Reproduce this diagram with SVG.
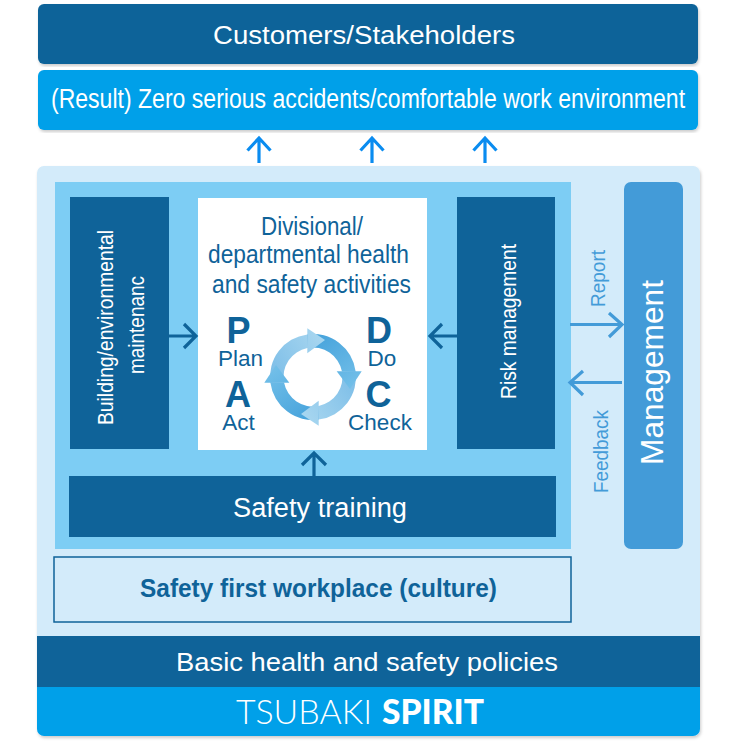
<svg xmlns="http://www.w3.org/2000/svg" width="740" height="745" viewBox="0 0 740 745">
<style>
text{font-family:"Liberation Sans",Arial,sans-serif;text-anchor:middle}
.w{fill:#fff}.d{fill:#0f6399}.m{fill:#439bd8}
.c{fill:none;stroke-width:3.200;stroke-linecap:butt}
</style>
<defs>
<filter id="sh" x="-5%" y="-5%" width="110%" height="110%"><feDropShadow dx="1" dy="2" stdDeviation="1.500" flood-color="#000" flood-opacity="0.2"/></filter>
<linearGradient id="g1" gradientUnits="userSpaceOnUse" x1="-40" y1="-5" x2="12" y2="-40"><stop offset="0" stop-color="#7fbfe8"/><stop offset="1" stop-color="#a9d7f0"/></linearGradient>
<linearGradient id="g2" gradientUnits="userSpaceOnUse" x1="-40" y1="-5" x2="12" y2="-40"><stop offset="0" stop-color="#48a4dc"/><stop offset="1" stop-color="#74c0e9"/></linearGradient>
<path id="seg" d="M-42.6 6A43 43 0 0 1-5.700-42.600L-5.700-28.900A29.500 29.500 0 0 0-29 5.500Z"/>
<path id="head" d="M-5.700-48.700 12-37-5.700-23.700Z"/>
</defs>

<g id="customers"><rect x="38" y="4" width="660" height="60" rx="6" fill="#0f6399" filter="url(#sh)"/>
<text class="w" x="364" y="44" font-size="26" textLength="302" lengthAdjust="spacingAndGlyphs">Customers/Stakeholders</text></g>
<g id="result"><rect x="38" y="70" width="660" height="60" rx="6" fill="#00a0e9" filter="url(#sh)"/>
<text class="w" transform="translate(368 108) scale(.85 1)" font-size="27" textLength="746" lengthAdjust="spacingAndGlyphs">(Result) Zero serious accidents/comfortable work environment</text></g>

<g id="panel"><rect x="37" y="166" width="663" height="570" rx="7" fill="#d3ebfa" filter="url(#sh)"/></g>
<g id="inner"><rect x="55" y="182" width="516" height="367" fill="#7dcdf4"/></g>
<g id="building"><rect x="70" y="197" width="99" height="252" fill="#0f6399"/>
<text class="w" transform="translate(113 327.500) rotate(-90)" font-size="22" textLength="195" lengthAdjust="spacingAndGlyphs">Building/environmental</text>
<text class="w" transform="translate(144 325) rotate(-90)" font-size="22" textLength="98" lengthAdjust="spacingAndGlyphs">maintenanc</text></g>
<g id="activities"><rect x="198" y="198" width="229" height="252" fill="#fff"/>
<text class="d" x="312" y="235" font-size="25" textLength="102" lengthAdjust="spacingAndGlyphs">Divisional/</text>
<text class="d" x="308.500" y="263" font-size="25" textLength="201" lengthAdjust="spacingAndGlyphs">departmental health</text>
<text class="d" x="311.500" y="293" font-size="25" textLength="199" lengthAdjust="spacingAndGlyphs">and safety activities</text>
<text class="d" x="238.500" y="343" font-size="36" font-weight="700">P</text>
<text class="d" x="240.500" y="366" font-size="22.500">Plan</text>
<text class="d" x="238" y="407" font-size="36" font-weight="700">A</text>
<text class="d" x="238.500" y="430" font-size="22.500">Act</text>
<text class="d" x="379" y="343" font-size="36" font-weight="700">D</text>
<text class="d" x="382" y="366" font-size="22.500">Do</text>
<text class="d" x="378.500" y="407" font-size="36" font-weight="700">C</text>
<text class="d" x="380" y="430" font-size="22.500">Check</text>
<g id="cycle" transform="translate(313 377)">
<use href="#seg" fill="url(#g2)" transform="rotate(270)"/>
<use href="#seg" fill="url(#g1)" transform="rotate(180)"/>
<use href="#seg" fill="url(#g2)" transform="rotate(90)"/>
<use href="#seg" fill="url(#g1)"/>
<use href="#head" fill="url(#g2)" transform="rotate(270)"/>
<use href="#head" fill="url(#g1)" transform="rotate(180)"/>
<use href="#head" fill="url(#g2)" transform="rotate(90)"/>
<use href="#head" fill="url(#g1)"/>
</g></g>
<g id="risk"><rect x="457" y="197" width="98" height="252" fill="#0f6399"/>
<text class="w" transform="translate(516 321.500) rotate(-90)" font-size="22" textLength="155" lengthAdjust="spacingAndGlyphs">Risk management</text></g>
<g id="training"><rect x="69" y="476" width="487" height="61" fill="#0f6399"/>
<text class="w" x="320" y="517" font-size="27" textLength="174" lengthAdjust="spacingAndGlyphs">Safety training</text></g>
<g id="culture"><rect x="54" y="557" width="517" height="65" fill="#d3ebfa" stroke="#0f6399" stroke-width="1.500"/>
<text class="d" x="318.500" y="597" font-size="25" font-weight="700" textLength="357" lengthAdjust="spacingAndGlyphs">Safety first workplace (culture)</text></g>
<g id="management"><rect x="624" y="182" width="59" height="367" rx="7" fill="#439bd8"/>
<text class="w" transform="translate(663 372.500) rotate(-90)" font-size="32" textLength="185" lengthAdjust="spacingAndGlyphs">Management</text></g>
<g id="policies"><rect x="37" y="636" width="663" height="51" fill="#0f6399"/>
<text class="w" x="367" y="671" font-size="26" textLength="382" lengthAdjust="spacingAndGlyphs">Basic health and safety policies</text></g>
<g id="spirit"><path d="M37 687H700V729a7 7 0 0 1-7 7H44a7 7 0 0 1-7-7Z" fill="#00a0e9"/>
<text class="w" x="304" y="724" font-size="34" style="font-family:Lato,'Liberation Sans',sans-serif;font-weight:300" textLength="136" lengthAdjust="spacingAndGlyphs">TSUBAKI</text>
<text class="w" x="433" y="724" font-size="34" style="font-family:Lato,'Liberation Sans',sans-serif;font-weight:900" textLength="102" lengthAdjust="spacingAndGlyphs">SPIRIT</text></g>

<g id="connectors">
<path class="c" stroke="#0a8cf0" d="M259 163V138M247.500 150.500 259 138 270.500 150.500"/>
<path class="c" stroke="#0a8cf0" d="M372 163V138M360.500 150.500 372 138 383.500 150.500"/>
<path class="c" stroke="#0a8cf0" d="M485 163V138M473.500 150.500 485 138 496.500 150.500"/>
<path class="c" stroke="#0f6399" d="M168 336H196M184 324 196 336 184 348"/>
<path class="c" stroke="#0f6399" d="M458 336H430M442 324 430 336 442 348"/>
<path class="c" stroke="#0f6399" d="M314 476V453M302 465 314 453 326 465"/>
<path class="c" stroke="#439bd8" d="M570 324.500H622M609 313 622 324.500 609 337"/>
<path class="c" stroke="#439bd8" d="M622 382.500H570M583 371 570 382.500 583 395"/>
</g>
<g id="labels">
<text class="m" transform="translate(605 278.500) rotate(-90)" font-size="20" textLength="57" lengthAdjust="spacingAndGlyphs">Report</text>
<text class="m" transform="translate(608 451.500) rotate(-90)" font-size="20" textLength="83" lengthAdjust="spacingAndGlyphs">Feedback</text>
</g>
</svg>
